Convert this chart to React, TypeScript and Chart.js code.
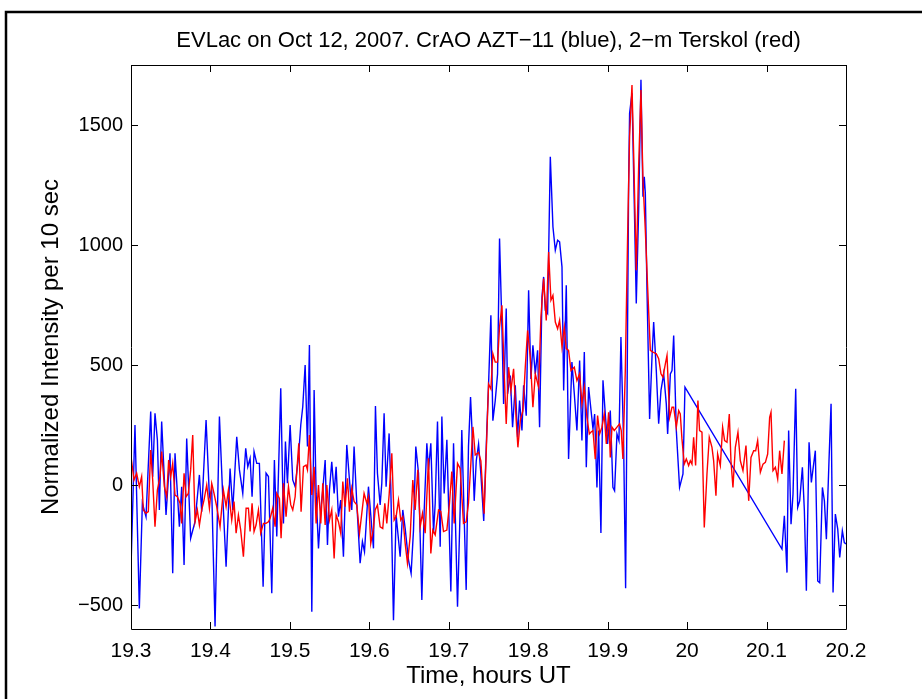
import React, { useEffect, useRef } from 'react';
import { Chart, registerables } from 'chart.js';

Chart.register(...registerables);

// ---- Data (time in hours UT, normalized intensity per 10 sec) ----
const blueTimes = [
  19.3000, 19.3050, 19.3105, 19.3143, 19.3189, 19.3248, 19.3273, 19.3302, 19.3332, 19.3357,
  19.3386, 19.3441, 19.3491, 19.3525, 19.3554, 19.3609, 19.3638, 19.3668, 19.3701, 19.3751,
  19.3806, 19.3861, 19.3890, 19.3945, 19.3987, 19.4016, 19.4058, 19.4113, 19.4155, 19.4197,
  19.4247, 19.4281, 19.4331, 19.4365, 19.4407, 19.4444, 19.4470, 19.4499, 19.4524, 19.4549,
  19.4583, 19.4616, 19.4663, 19.4700, 19.4730, 19.4772, 19.4805, 19.4835, 19.4885, 19.4919,
  19.4944, 19.4969, 19.5003, 19.5036, 19.5066, 19.5108, 19.5137, 19.5162, 19.5192, 19.5221,
  19.5246, 19.5276, 19.5305, 19.5330, 19.5360, 19.5389, 19.5414, 19.5444, 19.5473, 19.5498,
  19.5527, 19.5557, 19.5582, 19.5611, 19.5640, 19.5674, 19.5716, 19.5750, 19.5779, 19.5808,
  19.5842, 19.5884, 19.5913, 19.5939, 19.5989, 19.6018, 19.6052, 19.6077, 19.6102, 19.6136,
  19.6157, 19.6186, 19.6211, 19.6249, 19.6270, 19.6304, 19.6337, 19.6388, 19.6421, 19.6451,
  19.6493, 19.6526, 19.6556, 19.6585, 19.6619, 19.6661, 19.6690, 19.6724, 19.6745, 19.6774,
  19.6808, 19.6829, 19.6858, 19.6892, 19.6913, 19.6942, 19.6976, 19.7026, 19.7060, 19.7110,
  19.7143, 19.7164, 19.7219, 19.7248, 19.7274, 19.7291, 19.7320, 19.7346, 19.7375, 19.7404,
  19.7440, 19.7480, 19.7501, 19.7530, 19.7555, 19.7585, 19.7614, 19.7639, 19.7669, 19.7690,
  19.7723, 19.7740, 19.7774, 19.7803, 19.7837, 19.7866, 19.7891, 19.7921, 19.7942, 19.7975,
  19.8005, 19.8034, 19.8059, 19.8089, 19.8118, 19.8143, 19.8173, 19.8194, 19.8215, 19.8244,
  19.8278, 19.8311, 19.8341, 19.8370, 19.8395, 19.8425, 19.8446, 19.8479, 19.8508, 19.8550,
  19.8580, 19.8613, 19.8647, 19.8676, 19.8706, 19.8731, 19.8760, 19.8815, 19.8836, 19.8865,
  19.8886, 19.8915, 19.8941, 19.8970, 19.8999, 19.9033, 19.9066, 19.9087, 19.9117, 19.9142,
  19.9167, 19.9201, 19.9226, 19.9264, 19.9276, 19.9306, 19.9335, 19.9360, 19.9390, 19.9419,
  19.9444, 19.9461, 19.9474, 19.9495, 19.9528, 19.9558, 19.9579, 19.9612, 19.9642, 19.9671,
  19.9705, 19.9738, 19.9755, 19.9789, 19.9810, 19.9831, 19.9864, 19.9905, 19.9948, 19.9973,
  20.1194, 20.1224, 20.1257, 20.1278, 20.1308, 20.1333, 20.1367, 20.1392, 20.1417, 20.1451,
  20.1476, 20.1501, 20.1535, 20.1564, 20.1614, 20.1644, 20.1669, 20.1703, 20.1728, 20.1753,
  20.1786, 20.1812, 20.1837, 20.1866, 20.1896, 20.1921, 20.1954, 20.1979, 20.2000,
];
const blueValues = [
  -347, 250, -514, -76, -132, 306, 35, 299, 188, -104,
  264, -125, 132, -368, 132, -174, -7, -333, 194, -222,
  -153, 42, -111, 271, -49, -21, -590, 285, -49, -340,
  69, -104, 201, 63, -35, 153, 76, 111, -49, 139,
  90, 90, -424, 49, 35, -451, 104, -215, 403, -160,
  181, 7, 250, 21, -7, 118, 250, 326, 500, 160,
  583, -528, 396, -35, -264, -104, -21, 104, -250, -21,
  97, -35, 76, -132, -63, -299, 167, 21, -104, 160,
  -76, -326, -236, -278, -7, -125, -264, 329, 49, -83,
  7, 299, -7, 215, -7, -563, -125, -299, -104, -181,
  -313, -368, -188, 160, 49, -479, -111, 174, 63, 174,
  -201, -76, 264, -257, 285, -35, 188, -444, 174, -507,
  -104, 229, -437, 160, 367, 241, -66, 101, 171, 46,
  -150, 241, 421, 707, 268, 352, 463, 1027, 658, 338,
  735, 380, 456, 241, 415, 199, 352, 227, 415, 289,
  811, 442, 582, 463, 561, 241, 783, 867, 728, 714,
  1368, 1076, 978, 1020, 1013, 909, 394, 832, 108, 512,
  380, 227, 519, 185, 554, 74, 408, 234, 296, -10,
  227, -200, 436, 296, 171, 310, -10, -24, 213, 185,
  617, 171, -430, 1257, 1549, 1632, 1173, 756, 1145, 1688,
  1201, 1284, 1215, 811, 275, 533, 679, 477, 255, 394,
  463, 338, 213, 463, 477, 623, 227, -10, 46, 408,
  -267, -128, -365, 227, -163, -38, 401, -93, -66, 74,
  -107, -441, 178, 11, 143, -400, -407, -10, -66, -226,
  101, 338, -448, -121, -184, -302, -191, -240, -246,
];

const redTimes = [
  19.3000, 19.3038, 19.3071, 19.3105, 19.3134, 19.3155, 19.3189, 19.3218, 19.3248, 19.3273,
  19.3302, 19.3332, 19.3365, 19.3386, 19.3420, 19.3449, 19.3474, 19.3500, 19.3525, 19.3554,
  19.3584, 19.3617, 19.3638, 19.3668, 19.3693, 19.3722, 19.3751, 19.3777, 19.3806, 19.3835,
  19.3861, 19.3890, 19.3919, 19.3953, 19.3987, 19.4016, 19.4045, 19.4079, 19.4121, 19.4163,
  19.4197, 19.4226, 19.4268, 19.4297, 19.4323, 19.4352, 19.4381, 19.4415, 19.4449, 19.4478,
  19.4499, 19.4524, 19.4549, 19.4574, 19.4604, 19.4633, 19.4667, 19.4700, 19.4730, 19.4751,
  19.4784, 19.4814, 19.4835, 19.4868, 19.4889, 19.4919, 19.4952, 19.4982, 19.5011, 19.5036,
  19.5066, 19.5087, 19.5112, 19.5141, 19.5171, 19.5204, 19.5221, 19.5246, 19.5276, 19.5305,
  19.5330, 19.5360, 19.5389, 19.5414, 19.5444, 19.5465, 19.5498, 19.5527, 19.5557, 19.5582,
  19.5611, 19.5640, 19.5666, 19.5695, 19.5725, 19.5750, 19.5779, 19.5808, 19.5842, 19.5876,
  19.5905, 19.5934, 19.5968, 19.5989, 19.6018, 19.6052, 19.6073, 19.6102, 19.6136, 19.6169,
  19.6195, 19.6220, 19.6249, 19.6283, 19.6312, 19.6337, 19.6367, 19.6396, 19.6421, 19.6451,
  19.6480, 19.6514, 19.6547, 19.6577, 19.6610, 19.6640, 19.6669, 19.6703, 19.6745, 19.6774,
  19.6799, 19.6829, 19.6871, 19.6900, 19.6934, 19.6976, 19.7009, 19.7038, 19.7068, 19.7110,
  19.7143, 19.7185, 19.7219, 19.7248, 19.7278, 19.7304, 19.7333, 19.7375, 19.7404, 19.7445,
  19.7501, 19.7530, 19.7555, 19.7585, 19.7614, 19.7639, 19.7669, 19.7698, 19.7723, 19.7753,
  19.7782, 19.7816, 19.7849, 19.7870, 19.7900, 19.7933, 19.7963, 19.7992, 19.8026, 19.8059,
  19.8089, 19.8110, 19.8131, 19.8160, 19.8194, 19.8227, 19.8257, 19.8286, 19.8311, 19.8341,
  19.8370, 19.8395, 19.8425, 19.8454, 19.8479, 19.8508, 19.8538, 19.8580, 19.8613, 19.8647,
  19.8676, 19.8706, 19.8739, 19.8769, 19.8788, 19.8815, 19.8844, 19.8873, 19.8899, 19.8928,
  19.8957, 19.8983, 19.9012, 19.9033, 19.9054, 19.9083, 19.9117, 19.9150, 19.9171, 19.9192,
  19.9222, 19.9251, 19.9276, 19.9306, 19.9327, 19.9360, 19.9390, 19.9419, 19.9444, 19.9474,
  19.9503, 19.9537, 19.9570, 19.9612, 19.9642, 19.9671, 19.9696, 19.9726, 19.9747, 19.9780,
  19.9810, 19.9831, 19.9864, 19.9894, 19.9914, 19.9935, 19.9964, 19.9990, 20.0019, 20.0040,
  20.0061, 20.0082, 20.0107, 20.0136, 20.0157, 20.0187, 20.0216, 20.0250, 20.0279, 20.0313,
  20.0334, 20.0363, 20.0384, 20.0418, 20.0447, 20.0472, 20.0502, 20.0531, 20.0552, 20.0577,
  20.0607, 20.0640, 20.0670, 20.0703, 20.0741, 20.0775, 20.0804, 20.0838, 20.0863, 20.0888,
  20.0922, 20.0955, 20.0985, 20.1014, 20.1039, 20.1056, 20.1081, 20.1111, 20.1140, 20.1165,
  20.1194, 20.1224,
];
const redValues = [
  118, 21, 49, -7, 35, -104, -118, -111, 146, 21,
  -174, -21, 35, 139, -7, -49, 104, 35, 90, -42,
  -49, -76, -160, 49, -49, -35, 63, 208, -153, -104,
  -167, -104, -63, 0, -97, 7, -35, -90, -174, -21,
  -90, -21, -146, -69, -201, -125, -188, -299, -97, -97,
  -194, -76, -194, -167, -104, -201, -160, -160, -153, -139,
  -97, -174, -35, -56, -222, 7, -132, -7, -83, -104,
  -49, 56, 174, -111, 76, 83, 63, 208, -42, 76,
  -160, 0, -160, 7, -167, 0, -146, -104, -306, -125,
  -153, -201, 14, -90, 28, -111, -14, -69, -83, -201,
  -118, -35, -76, -49, -243, -181, -104, -83, -174, -181,
  -76, -160, -42, 132, -146, -132, -63, -146, -132, -243,
  -326, -215, 21, -104, 63, -174, -118, -201, 111, -285,
  -188, -208, -104, -111, -194, -188, -76, 56, -160, 90,
  69, -160, -153, -76, 90, 242, 125, 136, 101, -120,
  421, 400, 547, 512, 512, 658, 749, 463, 254, 491,
  394, 484, 268, 157, 268, 310, 491, 644, 533, 324,
  463, 435, 408, 700, 860, 686, 971, 770, 790, 679,
  651, 686, 575, 658, 568, 561, 477, 491, 435, 463,
  338, 408, 282, 213, 220, 227, 108, 289, 213, 241,
  296, 171, 303, 115, 241, 227, 241, 255, 227, 108,
  477, 1034, 1451, 1667, 1382, 895, 1326, 1646, 1271, 1062,
  825, 561, 554, 547, 526, 463, 449, 505, 540, 282,
  324, 324, 241, 310, 296, 192, 87, 108, 81, 101,
  87, 199, 81, 352, 227, 220, -177, 46, 199, 157,
  101, -45, 129, 81, 241, 185, 178, 296, 101, -10,
  157, 220, 101, 60, 164, -66, 115, 143, 143, 185,
  53, 87, 94, 129, 282, 303, 60, 74, 25, 143,
  46, 185,
];

const xTicks = [19.3, 19.4, 19.5, 19.6, 19.7, 19.8, 19.9, 20.0, 20.1, 20.2];
const xTickLabels = ['19.3', '19.4', '19.5', '19.6', '19.7', '19.8', '19.9', '20', '20.1', '20.2'];
const yTicks = [-500, 0, 500, 1000, 1500];
const yTickLabels = ['\u2212500', '0', '500', '1000', '1500'];

const titleText = 'EVLac on Oct 12, 2007. CrAO AZT\u221211 (blue), 2\u2212m Terskol (red)';
const xTitle = 'Time, hours UT';
const yTitle = 'Normalized Intensity per 10 sec';

const FONT = "'Liberation Sans', Arial, Helvetica, sans-serif";

const boxPlugin = {
  id: 'matlabBox',
  afterDraw(chart: any) {
    const { ctx, chartArea: a, scales } = chart;
    const xs = scales.x;
    const ys = scales.y;
    const L = 7;
    ctx.save();
    ctx.strokeStyle = '#000';
    ctx.lineWidth = 1;
    ctx.beginPath();
    ctx.rect(a.left + 0.5, a.top + 0.5, a.right - a.left, a.bottom - a.top);
    ctx.stroke();
    ctx.beginPath();
    xTicks.forEach((v) => {
      const px = Math.round(xs.getPixelForValue(v)) + 0.5;
      ctx.moveTo(px, a.bottom);
      ctx.lineTo(px, a.bottom - L);
      ctx.moveTo(px, a.top);
      ctx.lineTo(px, a.top + L);
    });
    yTicks.forEach((v) => {
      const py = Math.round(ys.getPixelForValue(v)) + 0.5;
      ctx.moveTo(a.left, py);
      ctx.lineTo(a.left + L, py);
      ctx.moveTo(a.right, py);
      ctx.lineTo(a.right - L, py);
    });
    ctx.stroke();
    // outer figure frame (top and left edges)
    ctx.lineWidth = 2.5;
    ctx.beginPath();
    ctx.moveTo(6, chart.height);
    ctx.lineTo(6, 12);
    ctx.lineTo(chart.width, 12);
    ctx.stroke();
    // title, centred over the axes box
    ctx.fillStyle = '#000';
    ctx.font = `22px ${FONT}`;
    ctx.textAlign = 'center';
    ctx.textBaseline = 'alphabetic';
    ctx.fillText(titleText, (a.left + a.right) / 2, 47);
    ctx.restore();
  },
};

export default function App() {
  const ref = useRef<HTMLCanvasElement | null>(null);

  useEffect(() => {
    document.body.style.margin = '0';
    const canvas = ref.current;
    if (!canvas) return;
    const chart = new Chart(canvas, {
      type: 'line',
      data: {
        datasets: [
          {
            label: 'CrAO AZT-11',
            data: blueTimes.map((t, i) => ({ x: t, y: blueValues[i] })),
            borderColor: '#0000ff',
            borderWidth: 1.4,
            pointRadius: 0,
            tension: 0,
            fill: false,
            order: 1,
          },
          {
            label: '2-m Terskol',
            data: redTimes.map((t, i) => ({ x: t, y: redValues[i] })),
            borderColor: '#ff0000',
            borderWidth: 1.4,
            pointRadius: 0,
            tension: 0,
            fill: false,
            order: 0,
          },
        ],
      },
      options: {
        animation: false,
        responsive: false,
        devicePixelRatio: 1,
        layout: { padding: { left: 0, right: 76, top: 65, bottom: 0 } },
        plugins: {
          legend: { display: false },
          tooltip: { enabled: false },
          title: { display: false },
        },
        scales: {
          x: {
            type: 'linear',
            min: 19.3,
            max: 20.2,
            afterBuildTicks: (s: any) => {
              s.ticks = xTicks.map((v) => ({ value: v }));
            },
            afterFit: (s: any) => {
              s.height = 70;
            },
            ticks: {
              autoSkip: false,
              maxRotation: 0,
              padding: 10,
              color: '#000',
              font: { family: FONT, size: 21 },
              callback: (_v: any, i: number) => xTickLabels[i],
            },
            grid: { display: false, drawTicks: false },
            border: { display: false },
            title: {
              display: true,
              text: xTitle,
              color: '#000',
              font: { family: FONT, size: 24 },
              padding: { top: 8, bottom: 8 },
            },
          },
          y: {
            type: 'linear',
            min: -600,
            max: 1750,
            afterBuildTicks: (s: any) => {
              s.ticks = yTicks.map((v) => ({ value: v }));
            },
            afterFit: (s: any) => {
              s.width = 131;
            },
            ticks: {
              autoSkip: false,
              padding: 8,
              color: '#000',
              font: { family: FONT, size: 20 },
              callback: (_v: any, i: number) => yTickLabels[i],
            },
            grid: { display: false, drawTicks: false },
            border: { display: false },
            title: {
              display: true,
              text: yTitle,
              color: '#000',
              font: { family: FONT, size: 24 },
              padding: { top: 37, bottom: 37 },
            },
          },
        },
      },
      plugins: [boxPlugin],
    });
    return () => chart.destroy();
  }, []);

  return (
    <div style={{ width: 922, height: 699, background: '#fff' }}>
      <canvas ref={ref} width={922} height={699} style={{ display: 'block' }} />
    </div>
  );
}
